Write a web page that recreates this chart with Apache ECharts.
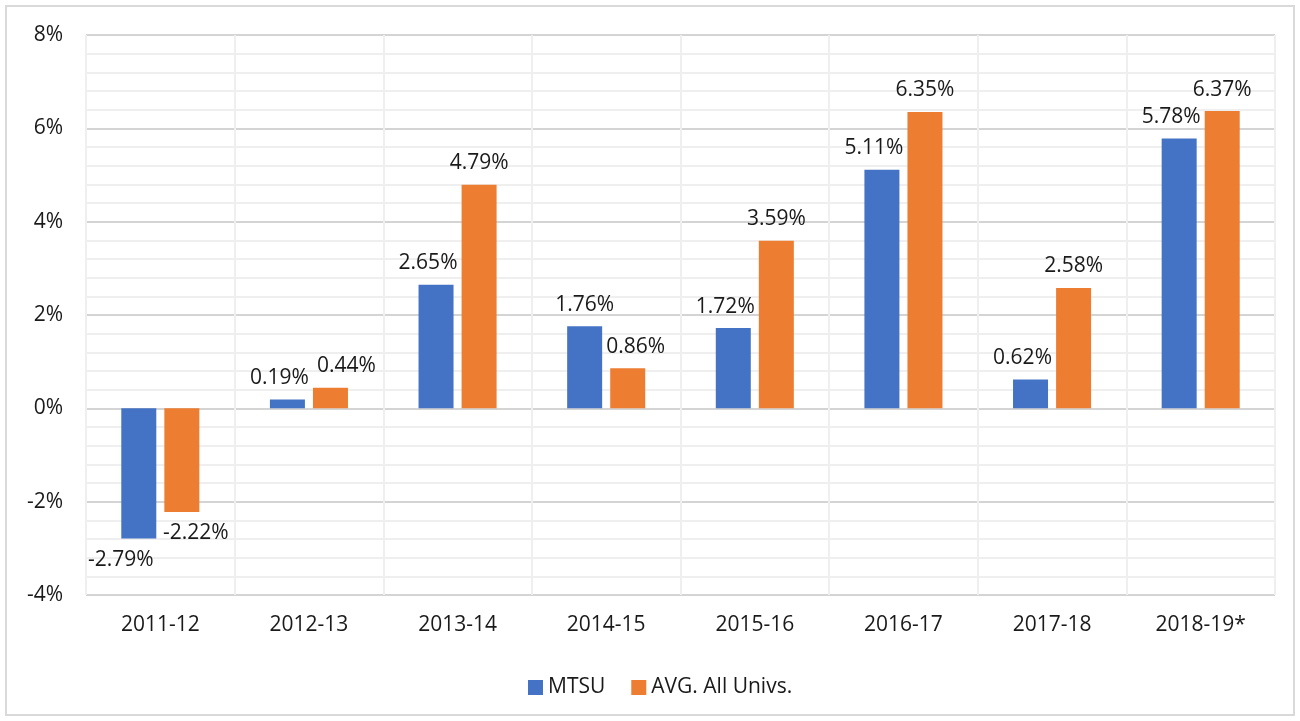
<!DOCTYPE html>
<html>
<head>
<meta charset="utf-8">
<script src="https://cdn.jsdelivr.net/npm/echarts@6/dist/echarts.min.js"></script>
<style>
    html, body { margin: 0; padding: 0; background: #fff; }
    #chart { width: 1300px; height: 721px; }
</style>
</head>
<body>
<div id="chart"></div>
<script>
    let years = ['2011-12', '2012-13', '2013-14', '2014-15', '2015-16', '2016-17', '2017-18', '2018-19*'];
    let mtsu = [-2.79, 0.19, 2.65, 1.76, 1.72, 5.11, 0.62, 5.78];
    let avgAll = [-2.22, 0.44, 4.79, 0.86, 3.59, 6.35, 2.58, 6.37];
    let yTicks = [-4, -2, 0, 2, 4, 6, 8];

    let font = 'Open Sans';
    let textColor = '#1a1a1a';

    // Excel pushed a few labels sideways so they do not overlap
    let blueShift = {0: -18, 3: 0};
    let orangeShift = {0: 14, 1: 16, 3: 8};

    function makeData(values, shifts, defShift) {
        return values.map(function (v, i) {
            let dx = shifts.hasOwnProperty(i) ? shifts[i] : defShift;
            return {
                value: v,
                label: {
                    position: v < 0 ? 'bottom' : 'top',
                    offset: [dx, 0]
                }
            };
        });
    }

    let myChart = echarts.init(document.getElementById('chart'));
    let labelStyle = {
        show: true,
        distance: 11,
        fontFamily: font,
        fontSize: 21,
        color: textColor,
        formatter: function (p) { return p.value.toFixed(2) + '%'; }
    };
    let option = {
        backgroundColor: '#fff',
        animation: false,
        graphic: [{
            type: 'rect',
            shape: {x: 6, y: 6, width: 1288, height: 709},
            style: {fill: 'none', stroke: '#d9d9d9', lineWidth: 2}
        }],
        grid: {
            left: 86,
            right: 25,
            top: 35,
            bottom: 126
        },
        legend: {
            left: 523,
            top: 672,
            itemWidth: 15,
            itemHeight: 15,
            itemGap: 26,
            icon: 'rect',
            textStyle: {fontFamily: font, fontSize: 21, color: textColor},
            data: ['MTSU', 'AVG. All Univs.']
        },
        xAxis: {
            type: 'category',
            data: years,
            axisLine: {show: false},
            axisTick: {show: false},
            splitLine: {show: true, lineStyle: {color: '#efefef', width: 2}},
            axisLabel: {
                margin: 20,
                fontFamily: font,
                fontSize: 21,
                color: textColor
            }
        },
        yAxis: {
            type: 'value',
            min: yTicks[0],
            max: yTicks[yTicks.length - 1],
            interval: 2,
            axisLine: {show: false},
            axisTick: {show: false},
            splitLine: {lineStyle: {color: '#d4d4d4', width: 2}},
            minorTick: {show: false, splitNumber: 5},
            minorSplitLine: {show: true, lineStyle: {color: '#efefef', width: 2}},
            axisLabel: {
                margin: 23,
                fontFamily: font,
                fontSize: 21,
                color: textColor,
                formatter: '{value}%'
            }
        },
        series: [{
            name: 'MTSU',
            type: 'bar',
            barWidth: 35,
            barGap: '23%',
            itemStyle: {color: '#4472c4'},
            label: labelStyle,
            data: makeData(mtsu, blueShift, -8)
        }, {
            name: 'AVG. All Univs.',
            type: 'bar',
            barWidth: 35,
            barGap: '23%',
            itemStyle: {color: '#ed7d31'},
            label: labelStyle,
            data: makeData(avgAll, orangeShift, 0)
        }]
    };
    myChart.setOption(option);
</script>
</body>
</html>
